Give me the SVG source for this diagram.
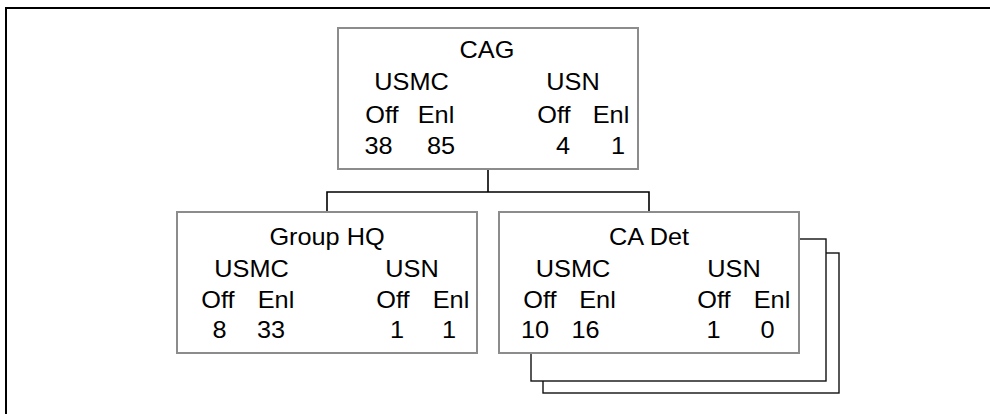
<svg xmlns="http://www.w3.org/2000/svg" width="990" height="414" viewBox="0 0 990 414">
<style>
.t{font-family:"Liberation Sans",Arial,sans-serif;font-size:23px;fill:#000;text-anchor:middle}
.box{fill:#fff;stroke:#8c8c8c;stroke-width:2}
.sh{fill:#fff;stroke:#111;stroke-width:1.4}
.con{fill:none;stroke:#000;stroke-width:1.6}
.frame{fill:none;stroke:#000;stroke-width:2}
</style>
<rect width="990" height="414" fill="#fff"/>
<path class="frame" d="M6 414 V8 H990"/>
<g id="connectors">
<path class="con" d="M488 169 V192 M327 212 V192 H649 V212"/>
</g>
<g id="cag">
<rect class="box" x="338" y="28" width="300" height="141"/>
<text class="t" transform="translate(487 58) scale(1.1 1)">CAG</text>
<text class="t" transform="translate(411.5 90) scale(1.1 1)">USMC</text>
<text class="t" transform="translate(573 90) scale(1.1 1)">USN</text>
<text class="t" transform="translate(382 123) scale(1.1 1)">Off</text>
<text class="t" transform="translate(436 123) scale(1.1 1)">Enl</text>
<text class="t" transform="translate(554 123) scale(1.1 1)">Off</text>
<text class="t" transform="translate(611 123) scale(1.1 1)">Enl</text>
<text class="t" transform="translate(378.5 154) scale(1.1 1)">38</text>
<text class="t" transform="translate(441 154) scale(1.1 1)">85</text>
<text class="t" transform="translate(563 154) scale(1.1 1)">4</text>
<text class="t" transform="translate(618 154) scale(1.1 1)">1</text>
</g>
<g id="group-hq">
<rect class="box" x="177" y="212" width="300" height="141"/>
<text class="t" transform="translate(327 245) scale(1.1 1)">Group HQ</text>
<text class="t" transform="translate(251.5 277) scale(1.1 1)">USMC</text>
<text class="t" transform="translate(412 277) scale(1.1 1)">USN</text>
<text class="t" transform="translate(218 308) scale(1.1 1)">Off</text>
<text class="t" transform="translate(276 308) scale(1.1 1)">Enl</text>
<text class="t" transform="translate(393 308) scale(1.1 1)">Off</text>
<text class="t" transform="translate(451 308) scale(1.1 1)">Enl</text>
<text class="t" transform="translate(219.5 338) scale(1.1 1)">8</text>
<text class="t" transform="translate(271 338) scale(1.1 1)">33</text>
<text class="t" transform="translate(397 338) scale(1.1 1)">1</text>
<text class="t" transform="translate(449 338) scale(1.1 1)">1</text>
</g>
<g id="ca-det">
<rect class="sh" x="543" y="253" width="296" height="140"/>
<rect class="sh" x="531" y="239" width="295" height="142"/>
<rect class="box" x="499" y="212" width="300" height="141"/>
<text class="t" transform="translate(649 245) scale(1.1 1)">CA Det</text>
<text class="t" transform="translate(573 277) scale(1.1 1)">USMC</text>
<text class="t" transform="translate(734 277) scale(1.1 1)">USN</text>
<text class="t" transform="translate(540 308) scale(1.1 1)">Off</text>
<text class="t" transform="translate(597.5 308) scale(1.1 1)">Enl</text>
<text class="t" transform="translate(714 308) scale(1.1 1)">Off</text>
<text class="t" transform="translate(772 308) scale(1.1 1)">Enl</text>
<text class="t" transform="translate(535 338) scale(1.1 1)">10</text>
<text class="t" transform="translate(585.5 338) scale(1.1 1)">16</text>
<text class="t" transform="translate(713.5 338) scale(1.1 1)">1</text>
<text class="t" transform="translate(767.5 338) scale(1.1 1)">0</text>
</g>
</svg>
